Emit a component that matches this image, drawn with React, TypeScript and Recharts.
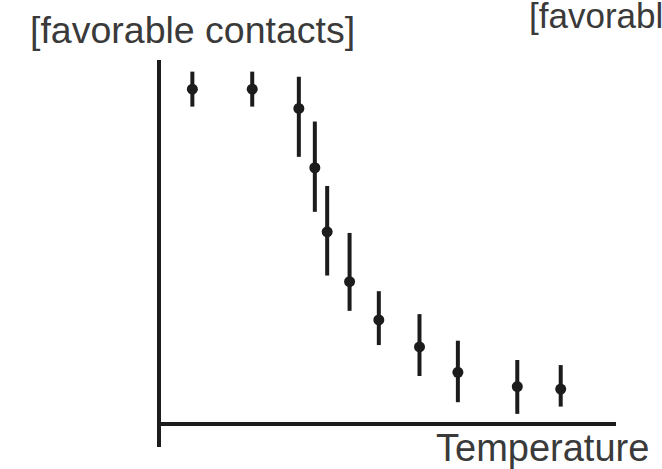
import React from "react";
import { ScatterChart, Scatter, XAxis, YAxis, ErrorBar, ReferenceLine, Customized } from "recharts";

const temperatures = [7.3, 20.4, 30.6, 34.1, 36.8, 41.7, 48.1, 57.0, 65.4, 78.4, 87.9];
const contacts = [92.0, 92.0, 86.7, 70.4, 52.8, 39.1, 28.6, 21.2, 14.2, 10.3, 9.6];
const errLow = [4.8, 4.8, 13.3, 12.1, 12.0, 8.0, 6.9, 8.0, 8.2, 7.5, 4.8];
const errHigh = [4.8, 4.8, 8.7, 12.7, 12.6, 13.4, 7.9, 9.0, 8.7, 7.3, 6.6];

const yLabel = "[favorable contacts]";
const xLabel = "Temperature";

const data = temperatures.map((t, i) => ({
  t,
  c: contacts[i],
  err: [errLow[i], errHigh[i]],
}));

const INK = "#1c1c1c";
const TEXT = "#3a3a3a";
const FONT = "'Liberation Sans', Arial, Helvetica, sans-serif";

const Dot = (props: any) => {
  const { cx, cy } = props;
  if (cx == null || cy == null) return null;
  return <circle cx={cx} cy={cy} r={5.5} fill={INK} />;
};

const Labels = () => (
  <g fontFamily={FONT}>
    <text x={30} y={43} fontSize={37.5} fill={TEXT}>{yLabel}</text>
    <text x={529} y={28} fontSize={35} fill={TEXT}>{yLabel}</text>
    <text x={436} y={461} fontSize={38} fill={TEXT}>{xLabel}</text>
  </g>
);

export default function App() {
  return (
    <div style={{ position: "absolute", left: 0, top: 0, background: "#fff" }}>
      <ScatterChart width={662} height={469} margin={{ top: 60, right: 46, bottom: 22, left: 0 }}>
        <XAxis type="number" dataKey="t" domain={[0, 100]} hide />
        <YAxis
          type="number"
          dataKey="c"
          domain={[-6.3, 100]}
          width={159}
          tick={false}
          tickLine={false}
          axisLine={{ stroke: INK, strokeWidth: 4 }}
        />
        <ReferenceLine y={0} stroke={INK} strokeWidth={4} />
        <Scatter data={data} shape={<Dot />} isAnimationActive={false}>
          <ErrorBar dataKey="err" direction="y" width={0} strokeWidth={4} stroke={INK} />
        </Scatter>
        <Customized component={Labels} />
      </ScatterChart>
    </div>
  );
}
